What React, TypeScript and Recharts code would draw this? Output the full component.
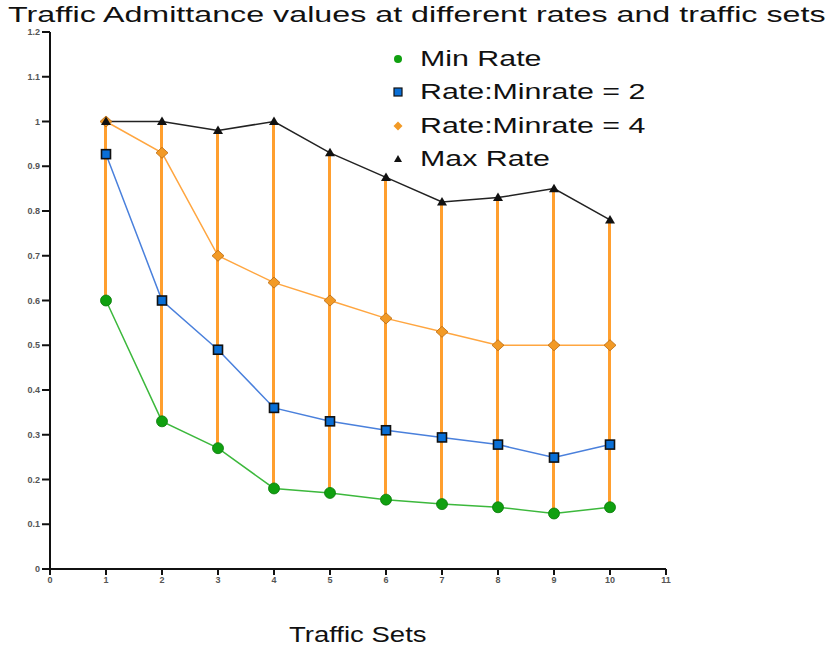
import {
    ComposedChart,
    Line,
    Bar,
    XAxis,
    YAxis
} from 'recharts';

const trafficSets = [1, 2, 3, 4, 5, 6, 7, 8, 9, 10];
const minRate = [0.6, 0.33, 0.27, 0.18, 0.17, 0.155, 0.145, 0.138, 0.124, 0.138];
const rate2 = [0.927, 0.6, 0.49, 0.36, 0.33, 0.31, 0.294, 0.278, 0.249, 0.278];
const rate4 = [1.0, 0.93, 0.7, 0.64, 0.6, 0.56, 0.53, 0.5, 0.5, 0.5];
const maxRate = [1.0, 1.0, 0.98, 1.0, 0.93, 0.875, 0.82, 0.83, 0.85, 0.78];

const xTicks = [0, 1, 2, 3, 4, 5, 6, 7, 8, 9, 10, 11];
const yTicks = [0, 0.1, 0.2, 0.3, 0.4, 0.5, 0.6, 0.7, 0.8, 0.9, 1, 1.1, 1.2];

const ORANGE = '#ff9f2f';
const BLUE = '#0a6fd6';
const FONT = '"Liberation Sans", Arial, sans-serif';

const data = trafficSets.map((x, i) => ({
    x,
    min: minRate[i],
    r2: rate2[i],
    r4: rate4[i],
    max: maxRate[i],
    range: [minRate[i], maxRate[i]]
}));

const CircleDot = (p: any) => (
    <circle key={`c${p.index}`} cx={p.cx} cy={p.cy} r={5.5} fill="#10a010" stroke="#0a7a0a" strokeWidth={0.8} />
);
const SquareDot = (p: any) => (
    <rect key={`s${p.index}`} x={p.cx - 4.5} y={p.cy - 4.5} width={9} height={9} fill={BLUE} stroke="#111" strokeWidth={1.6} />
);
const DiamondDot = (p: any) => (
    <polygon key={`d${p.index}`} points={`${p.cx},${p.cy - 5.5} ${p.cx + 6},${p.cy} ${p.cx},${p.cy + 5.5} ${p.cx - 6},${p.cy}`} fill="#f29a26" stroke="#b86a10" strokeWidth={0.8} />
);
const TriDot = (p: any) => (
    <polygon key={`t${p.index}`} points={`${p.cx},${p.cy - 5} ${p.cx + 5},${p.cy + 3.5} ${p.cx - 5},${p.cy + 3.5}`} fill="#111" />
);

const legendItems = [
    { label: 'Min Rate', icon: <circle cx={8} cy={8} r={4} fill="#10a010" /> },
    { label: 'Rate:Minrate = 2', icon: <rect x={4} y={4} width={8} height={8} fill={BLUE} stroke="#111" strokeWidth={1.2} /> },
    { label: 'Rate:Minrate = 4', icon: <polygon points="8,3.5 12.5,8 8,12.5 3.5,8" fill="#f29a26" /> },
    { label: 'Max Rate', icon: <polygon points="8,4 12,11 4,11" fill="#111" /> }
];

const tickStyle = { fill: '#555', fontSize: 9, fontFamily: FONT, fontWeight: 'bold' as const };

export default function App() {
    return (
        <div style={{ position: 'absolute', left: 0, top: 0, width: 836, height: 652, background: '#fff', overflow: 'hidden' }}>
            <div style={{ position: 'absolute', left: 8, top: 2, fontFamily: FONT, fontSize: 22, color: '#111', whiteSpace: 'nowrap', transform: 'scaleX(1.465)', transformOrigin: 'left top' }}>
                Traffic Admittance values at different rates and traffic sets
            </div>
            <ComposedChart width={836} height={652} data={data} margin={{ top: 32, right: 170, bottom: 53, left: 0 }}>
                <XAxis
                    dataKey="x"
                    type="number"
                    domain={[0, 11]}
                    ticks={xTicks}
                    interval={0}
                    height={30}
                    axisLine={{ stroke: '#111', strokeWidth: 2 }}
                    tickLine={{ stroke: '#111', strokeWidth: 2 }}
                    tickSize={6}
                    tick={tickStyle}
                />
                <YAxis
                    type="number"
                    domain={[0, 1.2]}
                    ticks={yTicks}
                    interval={0}
                    width={50}
                    axisLine={{ stroke: '#111', strokeWidth: 2 }}
                    tickLine={{ stroke: '#111', strokeWidth: 2 }}
                    tickSize={8}
                    tick={tickStyle}
                    tickFormatter={(v: number) => String(Math.round(v * 10) / 10)}
                />
                <Bar dataKey="range" barSize={3} fill={ORANGE} isAnimationActive={false} />
                <Line dataKey="min" name="Min Rate" stroke="#3cb83c" strokeWidth={1.5} dot={CircleDot} activeDot={false} isAnimationActive={false} />
                <Line dataKey="r2" name="Rate:Minrate = 2" stroke="#4a80dc" strokeWidth={1.5} dot={SquareDot} activeDot={false} isAnimationActive={false} />
                <Line dataKey="r4" name="Rate:Minrate = 4" stroke="#ffa640" strokeWidth={1.5} dot={DiamondDot} activeDot={false} isAnimationActive={false} />
                <Line dataKey="max" name="Max Rate" stroke="#222" strokeWidth={1.5} dot={TriDot} activeDot={false} isAnimationActive={false} />
            </ComposedChart>
            <div style={{ position: 'absolute', left: 390, top: 42, fontFamily: FONT, fontSize: 22, color: '#111' }}>
                {legendItems.map(item => (
                    <div key={item.label} style={{ display: 'flex', alignItems: 'center', height: 33.5 }}>
                        <svg width={16} height={16} style={{ marginRight: 14 }}>{item.icon}</svg>
                        <span style={{ display: 'inline-block', whiteSpace: 'nowrap', transform: 'scaleX(1.38)', transformOrigin: 'left center' }}>{item.label}</span>
                    </div>
                ))}
            </div>
            <div style={{ position: 'absolute', left: 289, top: 622, fontFamily: FONT, fontSize: 22, color: '#111', whiteSpace: 'nowrap', transform: 'scaleX(1.25)', transformOrigin: 'left top' }}>
                Traffic Sets
            </div>
        </div>
    );
}
